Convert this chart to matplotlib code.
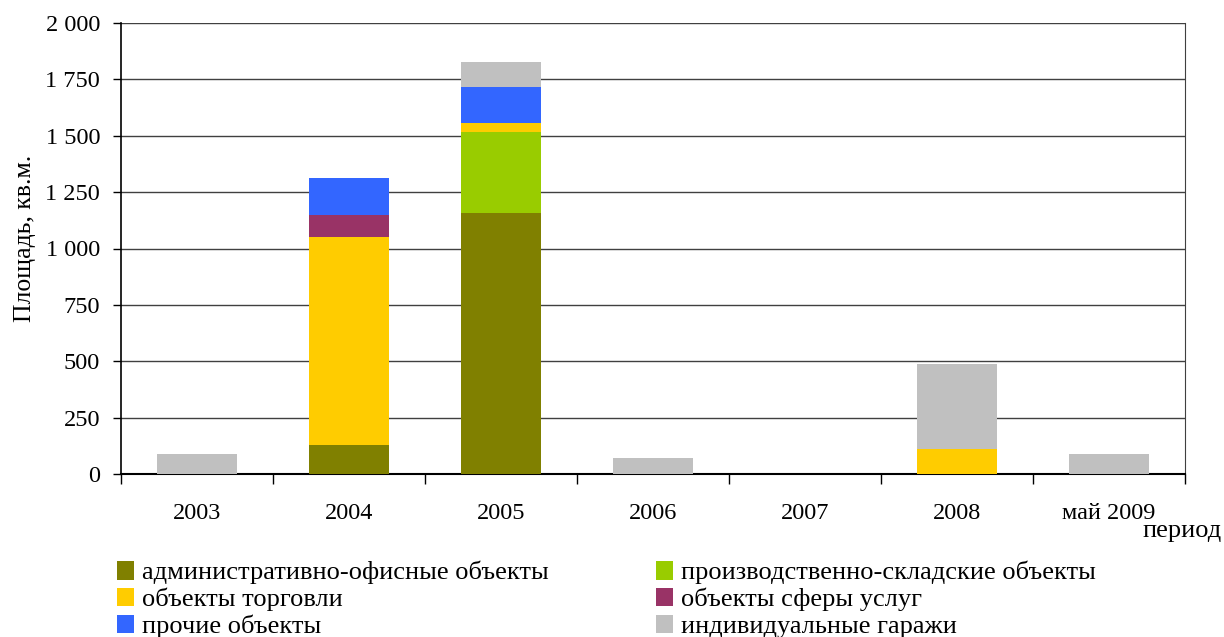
import matplotlib
matplotlib.use("Agg")
import matplotlib.pyplot as plt
import numpy as np
from matplotlib.patches import Patch
from matplotlib.ticker import FuncFormatter

plt.rcParams['font.family'] = ['Liberation Serif', 'DejaVu Serif']

periods = ["2003", "2004", "2005", "2006", "2007", "2008", "май 2009"]

admin_office = [0, 127, 1156, 0, 0, 0, 0]
industrial = [0, 0, 362, 0, 0, 0, 0]
trade = [0, 925, 39, 0, 0, 111, 0]
services = [0, 97, 0, 0, 0, 0, 0]
other = [0, 164, 159, 0, 0, 0, 0]
garages = [89, 0, 111, 71, 0, 377, 89]

series = [
    ("административно-офисные объекты", admin_office, "#808000"),
    ("производственно-складские объекты", industrial, "#99CC00"),
    ("объекты торговли", trade, "#FFCC00"),
    ("объекты сферы услуг", services, "#993366"),
    ("прочие объекты", other, "#3366FF"),
    ("индивидуальные гаражи", garages, "#C0C0C0"),
]

fig = plt.figure(figsize=(12.24, 6.37), dpi=100)
ax = fig.add_axes([121 / 1224, 1 - 474 / 637, (1185 - 121) / 1224, (474 - 23) / 637])

x = np.arange(len(periods))
bottom = np.zeros(len(periods))
for name, vals, col in series:
    vals = np.array(vals, dtype=float)
    ax.bar(x, vals, width=0.53, bottom=bottom, color=col, label=name, zorder=3)
    bottom += vals

ax.set_xlim(-0.5, len(periods) - 0.5)
ax.set_ylim(0, 2000)
ax.set_yticks(np.arange(0, 2001, 250))
ax.yaxis.set_major_formatter(FuncFormatter(lambda v, p: f"{int(v):,}".replace(",", " ")))
ax.grid(axis="y", color="#404040", linewidth=1.0, zorder=0)
ax.tick_params(axis="y", direction="out", length=6, width=1, labelsize=17.5, pad=9)

# category labels centred, tick marks at category boundaries
ax.set_xticks(x)
ax.set_xticklabels(periods, fontsize=17.5)
ax.tick_params(axis="x", which="major", length=0, pad=21)
ax.set_xticks(np.arange(-0.5, len(periods)), minor=True)
ax.tick_params(axis="x", which="minor", direction="out", length=7, width=1)

ax.spines["top"].set_visible(False)
ax.spines["right"].set_color("#404040")
ax.spines["left"].set_linewidth(1.2)
ax.spines["bottom"].set_linewidth(1.5)

ax.set_ylabel("Площадь, кв.м.", fontsize=18.5)
ax.yaxis.set_label_coords(-(121 - 36) / 1064, 0.522)
fig.text(1222 / 1224, 1 - 531 / 637, "период", ha="right", va="center", fontsize=19)

handles = [Patch(facecolor=c, edgecolor="none") for _, _, c in series]
labels = [n for n, _, _ in series]
order = [0, 2, 4, 1, 3, 5]
fig.legend([handles[i] for i in order], [labels[i] for i in order],
           ncol=2, loc="upper left", bbox_to_anchor=(117 / 1224, 1 - 561 / 637),
           frameon=False, fontsize=19, handlelength=0.65, handleheight=0.7,
           handletextpad=0.3, labelspacing=0.13, columnspacing=4.05, borderaxespad=0,
           borderpad=0)

fig.savefig("out.png", dpi=100)
